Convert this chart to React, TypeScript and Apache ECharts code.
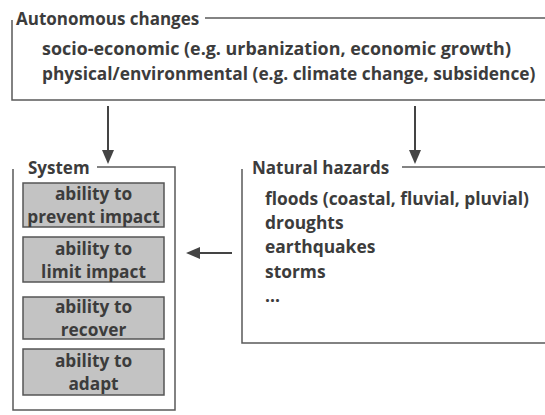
import React, { useEffect, useRef } from "react";
import * as echarts from "echarts";

const autonomousTitle = "Autonomous changes";
const autonomousLines = [
  "socio-economic (e.g. urbanization, economic growth)",
  "physical/environmental (e.g. climate change, subsidence)",
];
const systemTitle = "System";
const systemAbilities = [
  "ability to\nprevent impact",
  "ability to\nlimit impact",
  "ability to\nrecover",
  "ability to\nadapt",
];
const hazardsTitle = "Natural hazards";
const hazards = [
  "floods (coastal, fluvial, pluvial)",
  "droughts",
  "earthquakes",
  "storms",
  "...",
];

const FONT = "'Open Sans'";
const TXT = "#3c3c3c";
const LINE = "#5a5a5a";

function arrowDown(x: number, y1: number, y2: number): any[] {
  return [
    { type: "line", shape: { x1: x, y1, x2: x, y2: y2 - 10 }, style: { stroke: "#444", lineWidth: 2 } },
    { type: "polygon", shape: { points: [[x - 6, y2 - 14], [x + 6, y2 - 14], [x, y2]] }, style: { fill: "#444" } },
  ];
}

export default function App() {
  const ref = useRef<HTMLDivElement>(null);
  useEffect(() => {
    if (!ref.current) return;
    const chart = echarts.init(ref.current, null, { renderer: "svg" });
    const els: any[] = [];
    const boldText = (x: number, y: number, text: string, size: number, align = "left") => ({
      type: "text",
      x,
      y,
      style: { text, fill: TXT, font: `bold ${size}px ${FONT}`, textAlign: align, textVerticalAlign: "middle" },
    });

    // Autonomous changes box
    els.push({ type: "polyline", shape: { points: [[205, 18], [545, 18]] }, style: { stroke: LINE, lineWidth: 1.5, fill: null } });
    els.push({ type: "polyline", shape: { points: [[12, 20], [12, 100], [545, 100]] }, style: { stroke: LINE, lineWidth: 1.5, fill: null } });
    els.push(boldText(16, 18, autonomousTitle, 17));
    const autoSizes = [17.9, 17.3];
    autonomousLines.forEach((t, i) => els.push(boldText(42, 48 + i * 25, t, autoSizes[i])));

    // Arrows down
    els.push(...arrowDown(108, 106, 164));
    els.push(...arrowDown(415, 106, 164));

    // System box
    els.push({ type: "polyline", shape: { points: [[97, 167], [175, 167], [175, 410], [13, 410], [13, 169]] }, style: { stroke: LINE, lineWidth: 1.5, fill: null } });
    els.push(boldText(28, 167, systemTitle, 17));
    const boxes = [[183, 227], [237, 282], [297, 339], [349, 395]];
    systemAbilities.forEach((t, i) => {
      const [y1, y2] = boxes[i];
      els.push({ type: "rect", shape: { x: 23, y: y1, width: 141, height: y2 - y1 }, style: { fill: "#c3c3c3", stroke: "#555", lineWidth: 1.5 } });
      els.push({
        type: "text",
        x: 93.5,
        y: (y1 + y2) / 2,
        style: { text: t, fill: TXT, font: `bold 17.3px ${FONT}`, textAlign: "center", textVerticalAlign: "middle", lineHeight: 23 },
      });
    });

    // Left arrow
    els.push({ type: "line", shape: { x1: 232, y1: 253, x2: 196, y2: 253 }, style: { stroke: "#444", lineWidth: 2 } });
    els.push({ type: "polygon", shape: { points: [[186, 253], [200, 247], [200, 259]] }, style: { fill: "#444" } });

    // Natural hazards box
    els.push({ type: "polyline", shape: { points: [[402, 167], [545, 167]] }, style: { stroke: LINE, lineWidth: 1.5, fill: null } });
    els.push({ type: "polyline", shape: { points: [[242, 169], [242, 343], [545, 343]] }, style: { stroke: LINE, lineWidth: 1.5, fill: null } });
    els.push(boldText(252, 167, hazardsTitle, 17));
    hazards.forEach((t, i) => els.push(boldText(265, 198 + i * 24.2, t, 17.4)));

    chart.setOption({ animation: false, graphic: { elements: els } });
    return () => chart.dispose();
  }, []);
  return <div ref={ref} style={{ width: 545, height: 415, position: "absolute", left: 0, top: 0, background: "#fff" }} />;
}
